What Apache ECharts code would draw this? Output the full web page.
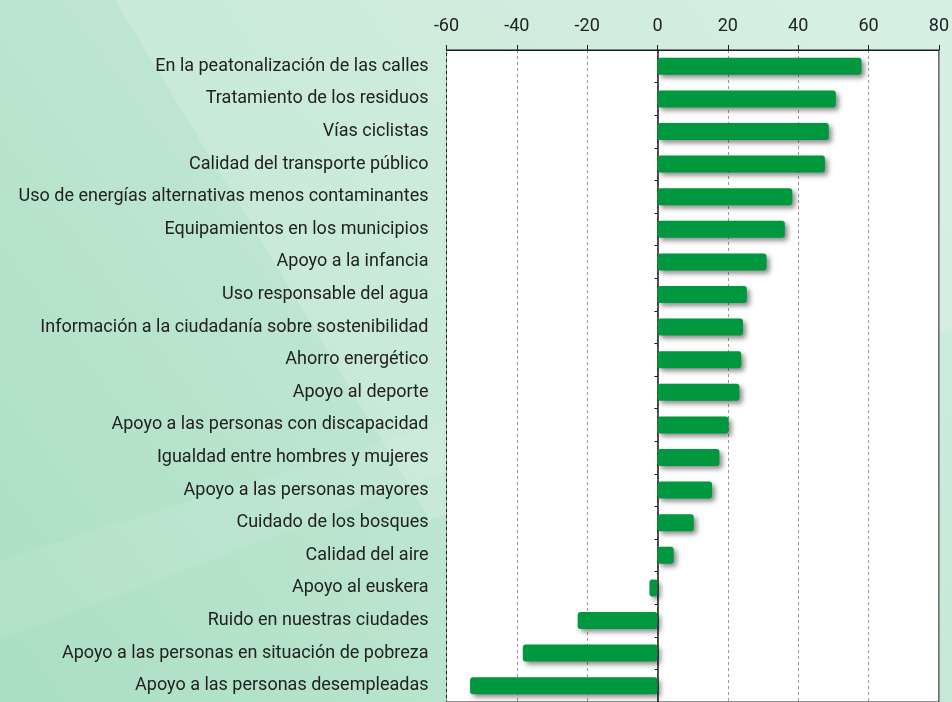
<!DOCTYPE html>
<html>
<head>
<meta charset="utf-8">
<script src="https://cdn.jsdelivr.net/npm/echarts@6/dist/echarts.min.js"></script>
<style>html,body{margin:0;padding:0;}#c{width:952px;height:702px;}</style>
</head>
<body>
<div id="c"></div>
<script>
const categories = [
  "En la peatonalización de las calles",
  "Tratamiento de los residuos",
  "Vías ciclistas",
  "Calidad del transporte público",
  "Uso de energías alternativas menos contaminantes",
  "Equipamientos en los municipios",
  "Apoyo a la infancia",
  "Uso responsable del agua",
  "Información a la ciudadanía sobre sostenibilidad",
  "Ahorro energético",
  "Apoyo al deporte",
  "Apoyo a las personas con discapacidad",
  "Igualdad entre hombres y mujeres",
  "Apoyo a las personas mayores",
  "Cuidado de los bosques",
  "Calidad del aire",
  "Apoyo al euskera",
  "Ruido en nuestras ciudades",
  "Apoyo a las personas en situación de pobreza",
  "Apoyo a las personas desempleadas"
];
const values = [58.0, 50.7, 48.7, 47.6, 38.3, 36.2, 31.0, 25.4, 24.3, 23.8, 23.3, 20.2, 17.6, 15.5, 10.3, 4.6, -2.3, -22.7, -38.3, -53.3];
const xMin = -60, xMax = 80, xStep = 20;

const chart = echarts.init(document.getElementById('c'), null, {renderer: 'canvas'});
const FONT = 'Roboto';
chart.setOption({
  animation: false,
  graphic: [
    {type: 'rect', z: -100, silent: true, shape: {x: 0, y: 0, width: 952, height: 702},
     style: {fill: new echarts.graphic.LinearGradient(0, 1, 1, 0, [
       {offset: 0, color: '#aadfc2'}, {offset: 0.5, color: '#c2e7d3'}, {offset: 1, color: '#d0ede0'}])}},
    {type: 'polygon', z: -99, silent: true, shape: {points: [[115, 0], [952, 0], [952, 330], [430, 520]]},
     style: {fill: 'rgba(255,255,255,0.16)'}},
    {type: 'polygon', z: -99, silent: true, shape: {points: [[0, 560], [450, 420], [450, 470], [0, 640]]},
     style: {fill: 'rgba(255,255,255,0.08)'}}
  ],
  grid: {left: 446.5, top: 50, width: 497.5, height: 654, show: true, backgroundColor: '#ffffff', borderColor: '#1a1a1a', borderWidth: 1, containLabel: false},
  xAxis: {
    type: 'value', position: 'top', min: xMin, max: xMax, interval: xStep,
    axisLine: {show: true, lineStyle: {color: '#1a1a1a', width: 1}},
    axisTick: {show: true, inside: false, length: 5, lineStyle: {color: '#1a1a1a'}},
    axisLabel: {fontFamily: FONT, fontSize: 18, color: '#222', margin: 15},
    splitLine: {show: true, lineStyle: {color: '#999', type: [3, 3], width: 1}}
  },
  yAxis: [
    {type: 'category', inverse: true, data: categories, position: 'left',
     axisLine: {show: false, onZero: false}, axisTick: {show: false},
     axisLabel: {fontFamily: FONT, fontSize: 18, color: '#222', margin: 18}},
    {type: 'category', inverse: true, data: categories, position: 'left',
     axisLine: {show: true, onZero: true, lineStyle: {color: '#1a1a1a', width: 1.5}},
     axisTick: {show: true, length: 3, lineStyle: {color: '#1a1a1a'}},
     axisLabel: {show: false}, splitLine: {show: false}}
  ],
  series: [{
    type: 'bar', yAxisIndex: 0, data: values, barWidth: 17,
    itemStyle: {color: '#00983f', borderRadius: 3, shadowBlur: 5, shadowOffsetX: 3, shadowOffsetY: 3, shadowColor: 'rgba(0,0,0,0.45)'}
  }]
});
</script>
</body>
</html>
